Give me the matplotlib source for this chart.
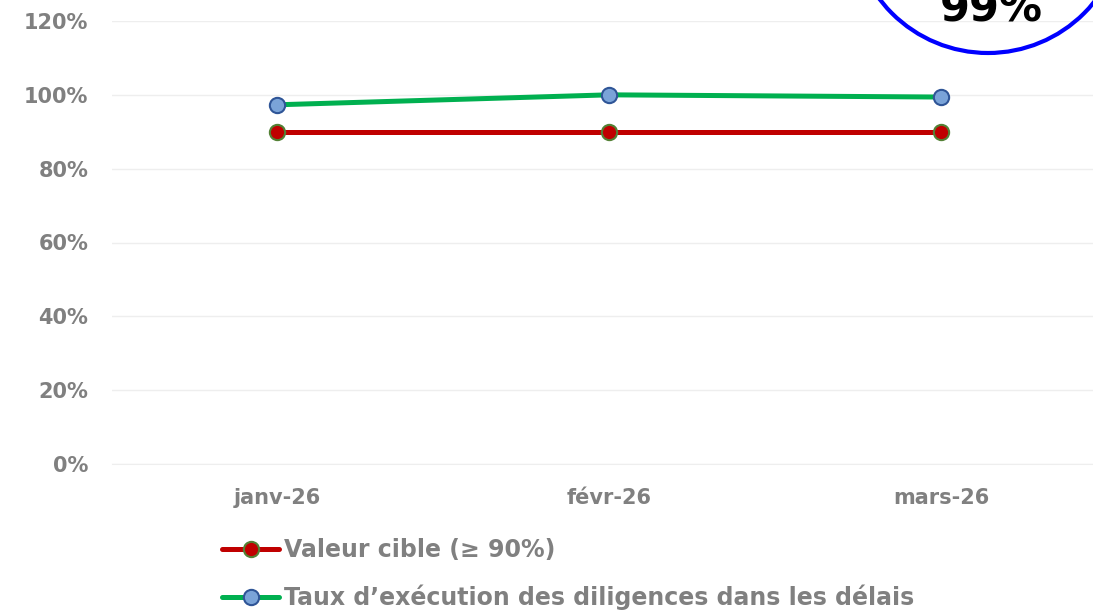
import matplotlib.pyplot as plt
from matplotlib.patches import Ellipse
from matplotlib.ticker import FuncFormatter

months = ['janv-26', 'févr-26', 'mars-26']
cible = [0.90, 0.90, 0.90]
taux = [0.973, 1.00, 0.994]
yticks = [0, 0.2, 0.4, 0.6, 0.8, 1.0, 1.2]
badge_text = '99%'

W, H = 1093, 611
fig = plt.figure(figsize=(W / 100, H / 100), dpi=100)
plt.rcParams['font.family'] = ['DejaVu Sans']

grey = '#808080'
ax = fig.add_axes([112 / W, 1 - 464 / H, (1093 - 112) / W, (464 - 21) / H])
x = range(len(months))

ax.plot(x, cible, color='#C00000', lw=3.6, marker='o', ms=11,
        mfc='#C00000', mec='#538135', mew=1.5, solid_capstyle='round',
        label='Valeur cible (≥ 90%)', zorder=3)
ax.plot(x, taux, color='#00B050', lw=3.6, marker='o', ms=11,
        mfc='#7AA3D8', mec='#2F5597', mew=1.5, solid_capstyle='round',
        label='Taux d’exécution des diligences dans les délais', zorder=3)

ax.set_xlim(-0.497, 2.458)
ax.set_ylim(0, 1.2)
ax.set_yticks(yticks)
ax.yaxis.set_major_formatter(FuncFormatter(lambda v, p: f'{v*100:.0f}%'))
ax.set_xticks(list(x))
ax.set_xticklabels(months)
ax.grid(axis='y', color='#EEEEEE', lw=1)
ax.set_axisbelow(True)
for s in ax.spines.values():
    s.set_visible(False)
ax.spines['bottom'].set_visible(True)
ax.spines['bottom'].set_color('#EEEEEE')
ax.tick_params(length=0, labelsize=15, labelcolor=grey)
ax.tick_params(axis='y', pad=17)
ax.tick_params(axis='x', pad=17)
for lab in ax.get_xticklabels() + ax.get_yticklabels():
    lab.set_fontweight('bold')

leg = fig.legend(loc='upper left', bbox_to_anchor=(201 / W, 1 - 517 / H),
                 frameon=False, handlelength=2.4, handletextpad=0.2,
                 labelspacing=0.94, prop={'size': 17, 'weight': 'bold'})
for t in leg.get_texts():
    t.set_color(grey)

# badge circle at top right (cut off by the top edge, as in the source)
circ = Ellipse((988, H + 83), 272, 272, transform=None, fill=False,
               edgecolor='#0000FF', lw=3, zorder=5)
fig.patches.append(circ)
fig.text(991 / W, 1 - 22 / H, badge_text, ha='center', va='baseline',
         fontsize=31, fontweight='bold', color='black')

fig.savefig('out.png', dpi=100)
